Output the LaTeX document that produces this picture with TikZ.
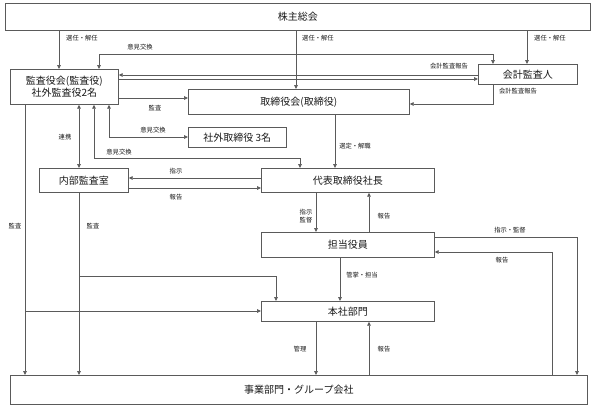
\documentclass[tikz,border=0pt]{standalone}
\usepackage{fontspec}
\setmainfont{Noto Sans CJK JP}
\usetikzlibrary{arrows.meta}
\definecolor{lg}{HTML}{5A5A5A}
\definecolor{tx}{HTML}{1A1A1A}
\tikzset{
  box/.style={draw=lg, line width=0.7pt, fill=white, inner sep=0pt, anchor=north west, text=tx, font=\fontsize{10}{12}\selectfont, align=center},
  lbl/.style={text=tx, font=\fontsize{6.3}{7.5}\selectfont, inner sep=0pt, align=center},
  tip/.style={Triangle[length=4pt,width=3.6pt]},
  arr/.style={draw=lg, line width=0.7pt, -{Triangle[length=4pt,width=3.6pt]}},
  darr/.style={draw=lg, line width=0.7pt, {Triangle[length=4pt,width=3.6pt]}-{Triangle[length=4pt,width=3.6pt]}},
  ln/.style={draw=lg, line width=0.7pt}
}
\begin{document}
\begin{tikzpicture}[x=1pt,y=-1pt]
\useasboundingbox[fill=white] (0,0) rectangle (592,405);
% boxes
\node[box, minimum width=585pt, minimum height=27pt] (sh) at (5,3) {株主総会};
\node[box, minimum width=108pt, minimum height=35pt] (kansa) at (10,69) {監査役会(監査役)\\社外監査役2名};
\node[box, minimum width=221pt, minimum height=25pt] (tori) at (188,89) {取締役会(取締役)};
\node[box, minimum width=99pt, minimum height=20pt] (kaikei) at (478,64) {会計監査人};
\node[box, minimum width=98pt, minimum height=20pt] (shagai) at (188,127) {社外取締役 3名};
\node[box, minimum width=89pt, minimum height=24pt] (naibu) at (39,168) {内部監査室};
\node[box, minimum width=173pt, minimum height=24pt] (pres) at (261,168) {代表取締役社長};
\node[box, minimum width=173pt, minimum height=25pt] (tanto) at (261,232) {担当役員};
\node[box, minimum width=173pt, minimum height=20pt] (honsha) at (261,301) {本社部門};
\node[box, minimum width=577pt, minimum height=29pt] (jigyo) at (10,375) {事業部門・グループ会社};

% shareholders
\draw[arr] (sh.south -| 59,0) -- (kansa.north -| 59,0);
\node[lbl, anchor=west] (l1) at (66,38) {選任・解任};
\draw[arr] (sh.south -| 296,0) -- (tori.north -| 296,0);
\node[lbl, anchor=west] (l2) at (302,38) {選任・解任};
\draw[arr] (sh.south -| 527,0) -- (kaikei.north -| 527,0);
\node[lbl, anchor=west] (l3) at (534,38) {選任・解任};

% opinion exchange kansa <-> kaikei
\draw[darr] (kaikei.north -| 493,0) -- (493,54) -- (99,54) -- (kansa.north -| 99,0);
\node[lbl] (l4) at (140,47) {意見交換};
\draw[arr] (kaikei.west |- 0,75) -- (kansa.east |- 0,75);
\node[lbl] (l5) at (449,66) {会計監査報告};
\draw[arr] (kansa.east |- 0,79) -- (kaikei.west |- 0,79);
\draw[arr] (kaikei.south -| 493,0) -- (493,104) -- (tori.east |- 0,104);
\node[lbl] (l6) at (518,91) {会計監査報告};

% kansa -> tori
\draw[arr] (kansa.east |- 0,98) -- (tori.west |- 0,98);
\node[lbl] (l7) at (155,108) {監査};
% kansa <-> shagai
\draw[darr] (kansa.south -| 109,0) -- (109,137) -- (shagai.west |- 0,137);
\node[lbl] (l8) at (153,130) {意見交換};
% kansa <-> pres
\draw[darr] (kansa.south -| 94,0) -- (94,158) -- (300,158) -- (pres.north -| 300,0);
\node[lbl] (l9) at (119,152) {意見交換};
% kansa <-> naibu
\draw[darr] (kansa.south -| 79,0) -- (naibu.north -| 79,0);
\node[lbl] (l10) at (65,137) {連携};
% kansa -> jigyo
\draw[arr] (kansa.south -| 25,0) -- (jigyo.north -| 25,0);
\node[lbl] (l11) at (15,226) {監査};
\coordinate (b1) at (25,311);
\draw[arr] (b1) -- (honsha.west |- b1);
% naibu -> jigyo
\draw[arr] (naibu.south -| 79,0) -- (jigyo.north -| 79,0);
\node[lbl] (l12) at (93,226) {監査};
\coordinate (b2) at (79,276);
\draw[arr] (b2) -- (276,276) -- (honsha.north -| 276,0);

% pres <-> naibu
\draw[arr] (pres.west |- 0,178) -- (naibu.east |- 0,178);
\node[lbl] (l13) at (176,171) {指示};
\draw[arr] (naibu.east |- 0,188) -- (pres.west |- 0,188);
\node[lbl] (l14) at (176,197) {報告};

% tori -> pres
\draw[arr] (tori.south -| 335,0) -- (pres.north -| 335,0);
\node[lbl] (l15) at (355,146) {選定・解職};

% pres <-> tanto
\draw[arr] (pres.south -| 316,0) -- (tanto.north -| 316,0);
\node[lbl] (l16) at (306,216) {指示\\監督};
\draw[arr] (tanto.north -| 369,0) -- (pres.south -| 369,0);
\node[lbl] (l17) at (384,216) {報告};

% tanto <-> jigyo
\draw[arr] (tanto.east |- 0,237) -- (577,237) -- (jigyo.north -| 577,0);
\node[lbl] (l18) at (510,230) {指示・監督};
\draw[arr] (jigyo.north -| 552,0) -- (552,252) -- (tanto.east |- 0,252);
\node[lbl] (l19) at (502,260) {報告};

% tanto -> honsha
\draw[arr] (tanto.south -| 340,0) -- (honsha.north -| 340,0);
\node[lbl] (l20) at (362,275) {管掌・担当};

% honsha <-> jigyo
\draw[arr] (honsha.south -| 316,0) -- (jigyo.north -| 316,0);
\node[lbl] (l21) at (300,349) {管理};
\draw[arr] (jigyo.north -| 369,0) -- (honsha.south -| 369,0);
\node[lbl] (l22) at (384,349) {報告};
\end{tikzpicture}
\end{document}
